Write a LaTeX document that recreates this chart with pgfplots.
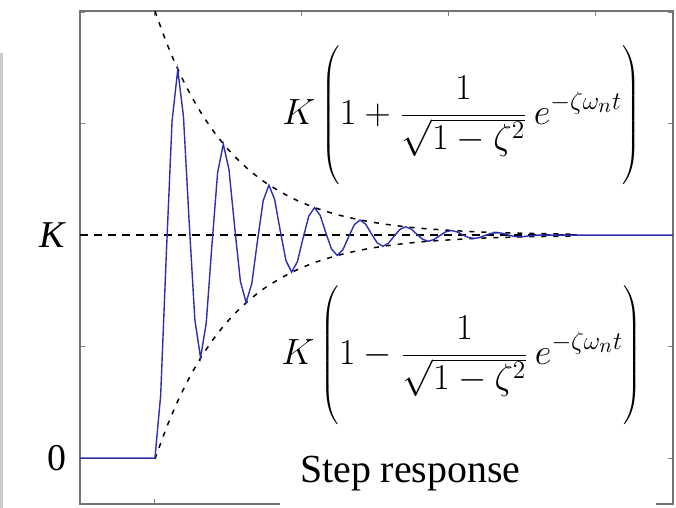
\documentclass[border=0pt]{standalone}
\usepackage{graphicx}
\usepackage{pgfplots}
\pgfplotsset{compat=1.18}
\usepackage{fontspec}
\setmainfont{Liberation Serif}

\definecolor{respblue}{rgb}{0.18,0.18,0.70}

% envelope formula with tall delimiters, set at 17.28pt and enlarged
\newcommand{\envelope}[1]{\scalebox{2.12}{\fontsize{17.28}{20}\selectfont
  $\displaystyle K\left(\vrule height 30.5bp depth 30.5bp width 0pt
  1#1\frac{1}{\sqrt{1-\zeta^2}}\,e^{-\zeta\omega_n t}\right)$}}

\begin{document}
\begin{tikzpicture}
\useasboundingbox (-80bp,-4bp) rectangle (596bp,504bp);
% strip of the neighbouring panel
\fill[gray!40] (-80bp,-4bp) rectangle (-77bp,451bp);

\begin{axis}[
  at={(0,0)}, anchor=south west,
  scale only axis,
  width=593bp, height=493bp,
  xmin=-0.51, xmax=3.524,
  ymin=-0.206, ymax=2.005,
  axis line style={draw=black!55, line width=2.6bp},
  xtick={0,1,2,3}, xticklabels={},
  ytick={0,0.5,1,1.5,2},
  yticklabels={0,{},{\textit{K}\hspace{16bp}},{},{}},
  yticklabel style={font=\fontsize{38}{40}\selectfont, text=black, xshift=-10bp},
  /pgf/number format/assume math mode=true,
  tick align=inside,
  tick pos=both,
  major tick length=5bp,
  tick style={draw=black!50, line width=1bp},
  clip=false,
]
% steady-state level K
\addplot[black, line width=1.6bp, dash pattern=on 8bp off 6bp]
  coordinates {(-0.51,1) (2.87,1)};

% upper envelope
\addplot[black, line width=1.5bp, dash pattern=on 5bp off 7bp, smooth]
  coordinates {(0,2.0045) (0.0775,1.8649) (0.155,1.7448) (0.2325,1.6413)
  (0.31,1.5522) (0.3875,1.4755) (0.465,1.4094) (0.5425,1.3526) (0.62,1.3036)
  (0.6975,1.2614) (0.775,1.2251) (0.93,1.1669) (1.085,1.1237) (1.24,1.0917)
  (1.395,1.0680) (1.55,1.0504) (1.705,1.0374) (1.86,1.0277) (2.17,1.0152)
  (2.48,1.0084) (2.87,1.0039)};

% lower envelope
\addplot[black, line width=1.5bp, dash pattern=on 5bp off 7bp, smooth]
  coordinates {(0,-0.0045) (0.0775,0.1351) (0.155,0.2552) (0.2325,0.3587)
  (0.31,0.4478) (0.3875,0.5245) (0.465,0.5906) (0.5425,0.6474) (0.62,0.6964)
  (0.6975,0.7386) (0.775,0.7749) (0.93,0.8331) (1.085,0.8763) (1.24,0.9083)
  (1.395,0.9320) (1.55,0.9496) (1.705,0.9626) (1.86,0.9723) (2.17,0.9848)
  (2.48,0.9916) (2.87,0.9961)};

% step response
\addplot[respblue, line width=1.4bp]
  coordinates {(-0.51,0) (0,0)
  (0.03875,0.2814) (0.0775,0.9180) (0.11625,1.5112) (0.155,1.7414)
  (0.19375,1.5328) (0.2325,1.0608) (0.27125,0.6210) (0.31,0.4503)
  (0.34875,0.6050) (0.3875,0.9549) (0.42625,1.2810) (0.465,1.4076)
  (0.50375,1.2929) (0.5425,1.0334) (0.58125,0.7916) (0.62,0.6978)
  (0.65875,0.7828) (0.6975,0.9752) (0.73625,1.1545) (0.775,1.2241)
  (0.81375,1.1610) (0.8525,1.0184) (0.89125,0.8854) (0.93,0.8339)
  (0.96875,0.8806) (1.0075,0.9864) (1.04625,1.0849) (1.085,1.1232)
  (1.12375,1.0885) (1.1625,1.0101) (1.20125,0.9370) (1.24,0.9087)
  (1.27875,0.9344) (1.3175,0.9925) (1.35625,1.0467) (1.395,1.0677)
  (1.43375,1.0487) (1.4725,1.0056) (1.51125,0.9654) (1.55,0.9498)
  (1.58875,0.9639) (1.6275,0.9959) (1.66625,1.0257) (1.705,1.0372)
  (1.74375,1.0268) (1.7825,1.0031) (1.82125,0.9810) (1.86,0.9724)
  (1.89875,0.9802) (1.9375,0.9977) (1.97625,1.0141) (2.015,1.0205)
  (2.05375,1.0147) (2.0925,1.0017) (2.13125,0.9895) (2.17,0.9848)
  (2.20875,0.9891) (2.2475,0.9988) (2.28625,1.0078) (2.325,1.0113)
  (2.36375,1.0081) (2.4025,1.0009) (2.44125,0.9942) (2.48,0.9917)
  (2.6,1.0) (3.524,1.0)};

\node[inner sep=0pt] at (axis cs:2.085,1.529) {\envelope{+}};
\node[inner sep=0pt] at (axis cs:2.085,0.453) {\envelope{-}};
\end{axis}

% caption patch over the lower frame
\fill[white] (200bp,-4bp) rectangle (576bp,62bp);
\node[anchor=base west, inner sep=0pt, font=\fontsize{40}{44}\selectfont]
  at (220bp,22bp) {Step response};
\end{tikzpicture}
\end{document}
